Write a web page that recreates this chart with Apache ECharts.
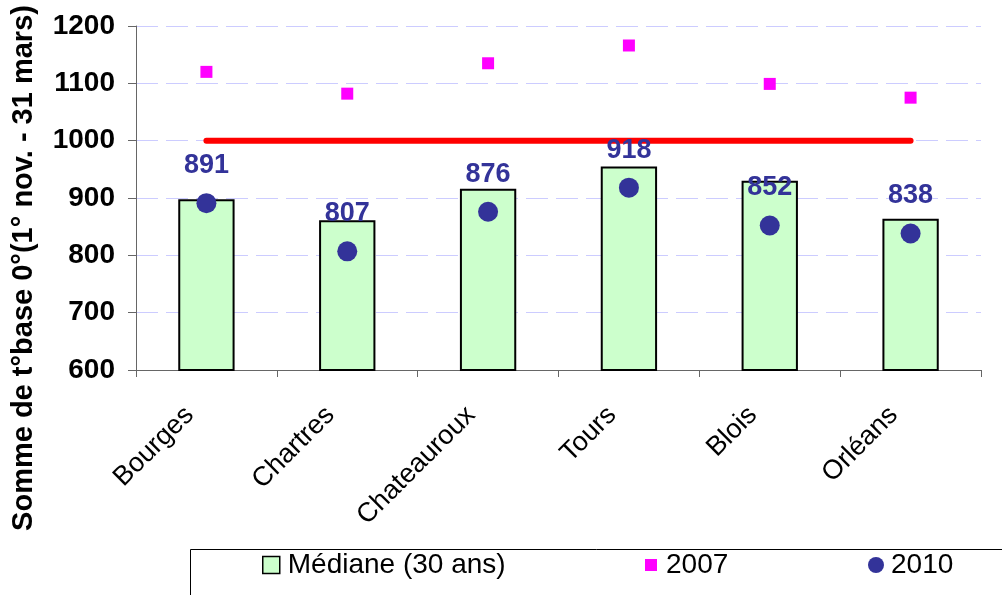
<!DOCTYPE html>
<html>
<head>
<meta charset="utf-8">
<script src="https://cdn.jsdelivr.net/npm/echarts@6/dist/echarts.min.js"></script>
<style>
  html, body { margin: 0; padding: 0; background: #fff; }
  #chart { width: 1002px; height: 595px; }
</style>
</head>
<body>
<div id="chart"></div>
<script>
// villes et valeurs
var villes = ['Bourges', 'Chartres', 'Chateauroux', 'Tours', 'Blois', 'Orléans'];
var mediane = [898, 861, 916, 955, 930, 864];
var annee2007 = [1120, 1082, 1135, 1166, 1099, 1075];
var annee2010 = [891, 807, 876, 918, 852, 838];
var seuil = [1000, 1000, 1000, 1000, 1000, 1000];

var font = 'Liberation Sans, Arial, sans-serif';
var chart = echarts.init(document.getElementById('chart'));

var option = {
    animation: false,
    textStyle: { fontFamily: font },
    grid: { left: 136, right: 21, top: 26, bottom: 225 },
    legend: [
        {
            data: ['Médiane (30 ans)'], left: 262, top: 551, padding: 0,
            itemWidth: 17, itemHeight: 17, icon: 'rect',
            itemStyle: { borderWidth: 1.5 },
            textStyle: { fontSize: 28, color: '#000', padding: [0, 0, 0, 3] }
        },
        {
            data: ['2007'], left: 645, top: 551, padding: 0,
            itemWidth: 12, itemHeight: 12,
            textStyle: { fontSize: 28, color: '#000', padding: [0, 0, 0, 4] }
        },
        {
            data: ['2010'], left: 868, top: 551, padding: 0,
            itemWidth: 16, itemHeight: 16,
            textStyle: { fontSize: 28, color: '#000', padding: [0, 0, 0, 2] }
        }
    ],
    graphic: [
        {
            type: 'rect',
            shape: { x: 190.5, y: 549.5, width: 900, height: 100 },
            style: { fill: 'none', stroke: '#000', lineWidth: 1 }
        },
        {
            type: 'text',
            x: 24, y: 268,
            rotation: Math.PI / 2,
            style: {
                text: 'Somme de t°base 0°(1° nov. - 31 mars)',
                font: 'bold 29px ' + font,
                fill: '#000',
                align: 'center',
                verticalAlign: 'middle'
            }
        }
    ],
    xAxis: {
        type: 'category',
        data: villes,
        axisLine: { lineStyle: { color: '#666', width: 1 } },
        axisTick: { show: true, length: 7, lineStyle: { color: '#666' } },
        axisLabel: {
            rotate: 45, margin: 24, fontSize: 27, color: '#000',
            padding: [0, 24, 0, 0], interval: 0
        }
    },
    yAxis: {
        type: 'value',
        min: 600, max: 1200, interval: 100,
        axisLine: { show: true, lineStyle: { color: '#666', width: 1 } },
        axisTick: { show: true, length: 8, lineStyle: { color: '#666' } },
        axisLabel: {
            fontSize: 28, fontWeight: 'bold', color: '#000', margin: 21,
            formatter: function (v) { return String(v); }
        },
        splitLine: {
            show: true,
            lineStyle: { color: '#ccccff', width: 1, type: [22, 8] }
        }
    },
    series: [
        {
            name: 'Médiane (30 ans)',
            type: 'bar',
            data: mediane,
            barWidth: '40%',
            itemStyle: { color: '#ccffcc', borderColor: '#000', borderWidth: 2 },
            z: 2
        },
        {
            name: 'seuil',
            type: 'line',
            data: seuil,
            showSymbol: false,
            lineStyle: { color: '#ff0000', width: 6, cap: 'round' },
            z: 3
        },
        {
            name: '2007',
            type: 'scatter',
            data: annee2007,
            symbol: 'rect',
            symbolSize: 12,
            itemStyle: { color: '#ff00ff', opacity: 1 },
            z: 4
        },
        {
            name: '2010',
            type: 'scatter',
            data: annee2010,
            symbol: 'circle',
            symbolSize: 20,
            itemStyle: { color: '#333399', opacity: 1 },
            label: {
                show: true, position: 'top', distance: 14,
                fontSize: 27, fontWeight: 'bold', color: '#333399'
            },
            z: 5
        }
    ]
};

chart.setOption(option);
</script>
</body>
</html>
